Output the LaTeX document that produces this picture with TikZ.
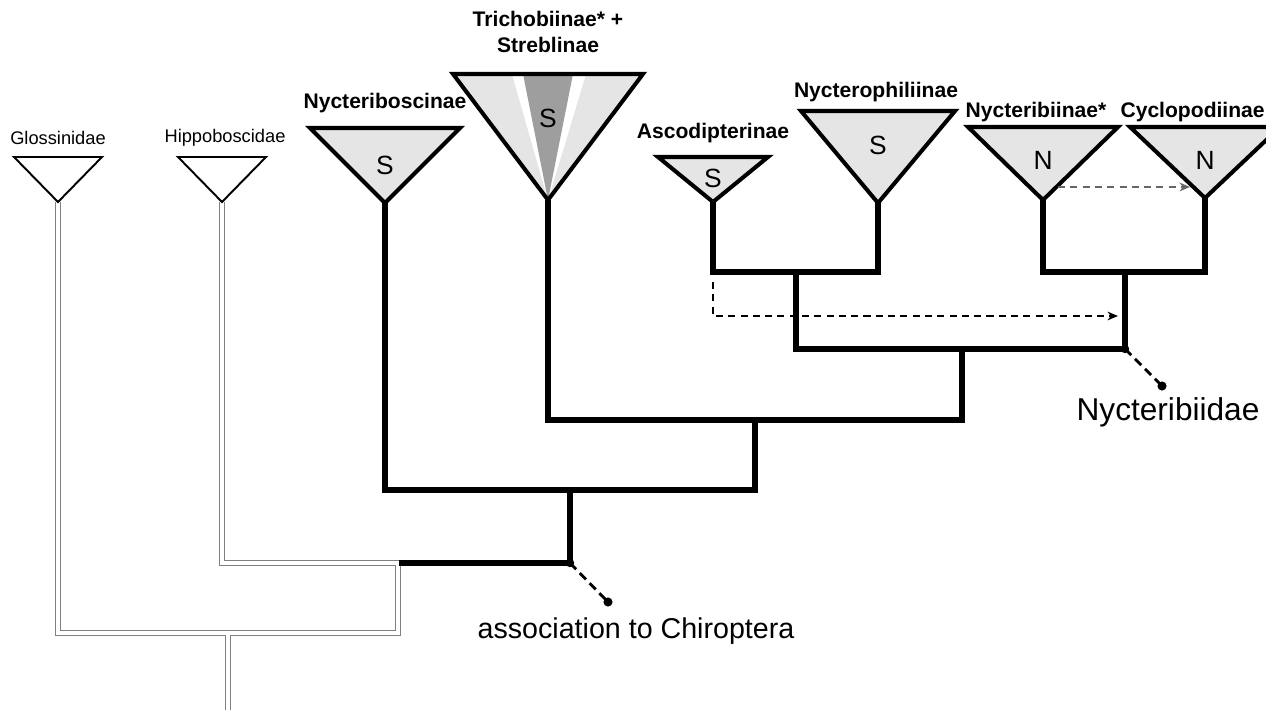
\documentclass[tikz,border=0pt]{standalone}
\usepackage{fontspec}
\setmainfont{Liberation Sans}
\usetikzlibrary{calc,arrows.meta}

\tikzset{
  branch/.style={line width=3.1pt, line join=miter},
  oldbranch/.style={draw=black!50, line width=0.75pt, double=white, double distance=2.4pt},
  fanline/.style={line width=2.3pt, line join=miter},
  thinfan/.style={line width=1.1pt, line join=miter},
  cladelbl/.style={font=\bfseries\fontsize{12}{15}\selectfont, inner sep=0pt},
  outlbl/.style={font=\fontsize{10.4}{12}\selectfont, inner sep=0pt},
  hostlbl/.style={font=\fontsize{15}{17}\selectfont, inner sep=0pt},
  grouplbl/.style={inner sep=0pt},
  stemlink/.style={line width=1.6pt, dash pattern=on 5pt off 3pt},
  hostshift/.style={line width=0.8pt, dash pattern=on 4pt off 3pt, -{Stealth[length=6pt,width=5pt]}},
}

% draws one collapsed clade: apex, half width, height, fill
\newcommand{\fan}[5]{
  \filldraw[#5, fill=#4] ($(#1)+(-#2,-#3)$) -- ($(#1)+(#2,-#3)$) -- (#1) -- cycle;
}

\begin{document}
\begin{tikzpicture}[x=0.02cm, y=-0.02cm]
\useasboundingbox (0,0) rectangle (1266,709);
\clip (0,0) rectangle (1266,709);

% apices of the clades
\coordinate (glo) at (58,202);
\coordinate (hip) at (222,202);
\coordinate (nbo) at (385,203);
\coordinate (tri) at (548,200);
\coordinate (asc) at (713,202);
\coordinate (nyp) at (878,203);
\coordinate (nyb) at (1043,200);
\coordinate (cyc) at (1205,198);

% inner nodes of the tree
\coordinate (j1) at (796,272);
\coordinate (j2) at (1125,272);
\coordinate (nycter) at (1125,349);
\coordinate (j3) at (962,349);
\coordinate (j4) at (755,420);
\coordinate (j5) at (570,490);
\coordinate (chiro) at (570,563);
\coordinate (gjoin) at (398,563);
\coordinate (gcorner) at (398,633);
\coordinate (groot) at (228,633);
\coordinate (root) at (228,712);

% outgroups in double lines
\draw[oldbranch] (glo) |- (gcorner) -- (gjoin) -| (hip);
\draw[oldbranch] ($(groot)+(0,2)$) -- (root);

% bat flies
\draw[branch] (asc) |- (j1) -| (nyp);
\draw[branch] (nyb) |- (j2) -| (cyc);
\draw[branch] (j1) |- (nycter) -- (j2);
\draw[branch] (tri) |- (j4) -| (j3);
\draw[branch] (nbo) |- (j5) -| (j4);
\draw[branch] (j5) -- (chiro) -- ($(gjoin)+(1,0)$);

% clades
\fan{glo}{44}{45}{white}{thinfan}
\fan{hip}{44}{45}{white}{thinfan}
\fan{nbo}{75}{75}{black!10}{fanline}
\fill[black!10] ($(tri)+(-95,-126)$) -- ($(tri)+(95,-126)$) -- (tri) -- cycle;
\fill[white] ($(tri)+(-36,-126)$) -- ($(tri)+(38,-126)$) -- (tri) -- cycle;
\fill[black!38] ($(tri)+(-25,-126)$) -- ($(tri)+(25,-126)$) -- (tri) -- cycle;
\draw[fanline] ($(tri)+(-95,-126)$) -- ($(tri)+(95,-126)$) -- (tri) -- cycle;
\fan{asc}{55}{45}{black!10}{fanline}
\fan{nyp}{77}{92}{black!10}{fanline}
\fan{nyb}{75}{73}{black!10}{fanline}
\fan{cyc}{75}{71}{black!10}{fanline}

% host letters
\node[hostlbl] (sNbo) at (385,165) {S};
\node[hostlbl] (sTri) at (548,118) {S};
\node[hostlbl] (sAsc) at (713,178) {S};
\node[hostlbl] (sNyp) at (878,145) {S};
\node[hostlbl] (nNyb) at (1043,160) {N};
\node[hostlbl] (nCyc) at (1205,160) {N};

% clade names
\node[outlbl] (lGlo) at (58,138) {Glossinidae};
\node[outlbl] (lHip) at (225,138) {Hippoboscidae};
\node[cladelbl] (lNbo) at (385,103) {Nycteriboscinae};
\node[cladelbl, align=center] (lTri) at (548,32) {Trichobiinae* +\\Streblinae};
\node[cladelbl] (lAsc) at (713,133) {Ascodipterinae};
\node[cladelbl] (lNyp) at (876,92) {Nycterophiliinae};
\node[cladelbl] (lNyb) at (1036,112) {Nycteribiinae*};
\node[cladelbl, anchor=east] (lCyc) at (1265,112) {Cyclopodiinae};

% host shifts
\coordinate (shiftA) at (713,282);
\coordinate (shiftB) at (1118,316);
\draw[hostshift] (shiftA) |- (shiftB);
\coordinate (shiftC) at (1058,187);
\coordinate (shiftD) at (1190,187);
\draw[hostshift, black!60] (shiftC) -- (shiftD);

% labelled stems
\fill (chiro) circle (2.4pt);
\coordinate (chirodot) at (608,602);
\draw[stemlink] (chiro) -- (chirodot);
\fill (chirodot) circle (2.6pt);
\node[grouplbl, font=\fontsize{16.3}{18}\selectfont] (lChiro) at (636,631) {association to Chiroptera};

\fill (nycter) circle (2.4pt);
\coordinate (nycterdot) at (1162,386);
\draw[stemlink] (nycter) -- (nycterdot);
\fill (nycterdot) circle (2.6pt);
\node[grouplbl, font=\fontsize{18}{20}\selectfont] (lNycter) at (1168,412) {Nycteribiidae};
\end{tikzpicture}
\end{document}
